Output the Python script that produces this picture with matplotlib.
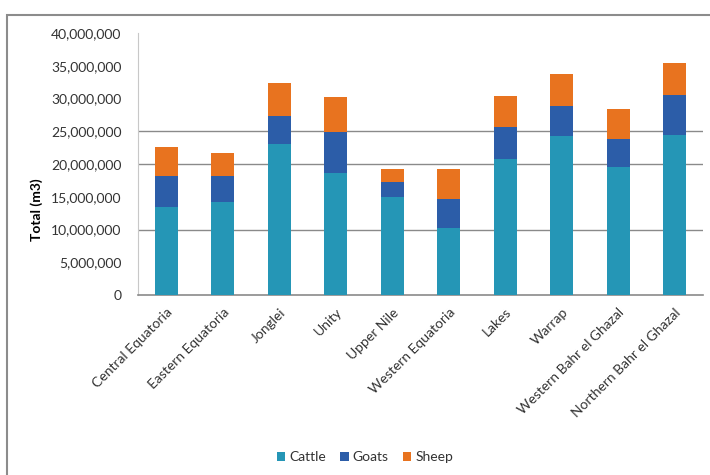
import matplotlib.pyplot as plt
import matplotlib.patches as mpatches
import numpy as np

regions = [
    "Central Equatoria", "Eastern Equatoria", "Jonglei", "Unity", "Upper Nile",
    "Western Equatoria", "Lakes", "Warrap", "Western Bahr el Ghazal",
    "Northern Bahr el Ghazal",
]
# values in m3
cattle = [13.5e6, 14.2e6, 23.0e6, 18.7e6, 15.0e6, 10.3e6, 20.7e6, 24.3e6, 19.6e6, 24.4e6]
goats = [4.6e6, 4.0e6, 4.3e6, 6.2e6, 2.2e6, 4.4e6, 5.0e6, 4.6e6, 4.2e6, 6.1e6]
sheep = [4.5e6, 3.5e6, 5.1e6, 5.4e6, 2.0e6, 4.5e6, 4.7e6, 4.8e6, 4.6e6, 4.9e6]
grid_levels = [10e6, 20e6, 25e6]
yticks = np.arange(0, 40e6 + 1, 5e6)

plt.rcParams["font.family"] = ["Lato", "DejaVu Sans"]

colors = {"Cattle": "#2596b6", "Goats": "#2c5da8", "Sheep": "#e8731f"}

fig = plt.figure(figsize=(7.1, 4.75), dpi=100)
fig.patches.append(mpatches.Rectangle((7 / 710, -0.1), 1.1, 1 - 15 / 475 + 0.1,
                                      transform=fig.transFigure, fill=False,
                                      edgecolor="#8c8c8c", linewidth=1.5))
ax = fig.add_axes([138 / 710, 1 - 295 / 475, 565 / 710, 262 / 475])

x = np.arange(len(regions))
w = 0.41
ax.bar(x, cattle, w, color=colors["Cattle"], label="Cattle", zorder=3)
ax.bar(x, goats, w, bottom=cattle, color=colors["Goats"], label="Goats", zorder=3)
base = np.array(cattle) + np.array(goats)
ax.bar(x, sheep, w, bottom=base, color=colors["Sheep"], label="Sheep", zorder=3)

for g in grid_levels:
    ax.axhline(g, color="#8a8a8a", linewidth=1, zorder=1)

ax.set_xlim(-0.5, len(regions) - 0.5)
ax.set_ylim(0, 40e6)
ax.set_yticks(yticks)
ax.set_yticklabels([f"{v:,.0f}" for v in yticks], fontsize=10, color="#333333")
ax.set_xticks(x)
ax.set_xticklabels(regions, rotation=45, ha="right", rotation_mode="anchor",
                   fontsize=10, color="#333333")
ax.tick_params(length=0)
ax.tick_params(axis="x", pad=8)
ax.tick_params(axis="y", pad=12)

for s in ["top", "right"]:
    ax.spines[s].set_visible(False)
ax.spines["left"].set_color("#c8c8c8")
ax.spines["bottom"].set_color("#8a8a8a")
ax.spines["bottom"].set_linewidth(1.2)

ax.set_ylabel("Total (m3)", fontsize=10, fontweight="bold")
ax.yaxis.set_label_coords(-95 / 565, 85 / 262)

ax.legend(loc="center", bbox_to_anchor=(365 / 710, 1 - 457 / 475),
          bbox_transform=fig.transFigure, ncol=3, frameon=False, fontsize=10,
          handlelength=0.6, handleheight=0.6, handletextpad=0.3, columnspacing=1.0,
          labelcolor="#333333")

fig.savefig("out.png", dpi=100)
